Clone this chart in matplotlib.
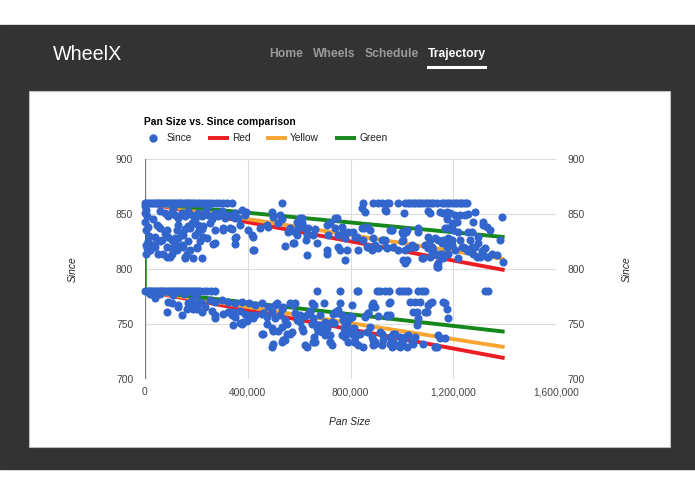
import numpy as np
from matplotlib import pyplot as plt
from matplotlib.patches import Rectangle
from matplotlib.lines import Line2D
from matplotlib.ticker import FuncFormatter

W, H = 695, 494

'''data (pan size in thousands, since value)'''
row_860_x = [0, 8, 15, 22, 30, 38, 45, 52, 60, 68, 75, 82, 90, 98, 105, 112, 120, 128, 135, 142,
             150, 158, 165, 172, 180, 188, 195, 205, 215, 225, 238, 250, 262, 275, 290, 305, 320, 338,
             532, 850, 889, 908, 922, 941, 951, 986, 1012, 1022, 1032, 1042, 1052, 1062, 1072, 1082,
             1092, 1102, 1112, 1122, 1135, 1155, 1165, 1175, 1185, 1195, 1205, 1215, 1225, 1235, 1245, 1252]
row_780_x = [0, 7, 14, 21, 28, 35, 42, 50, 57, 64, 71, 78, 86, 93, 100, 108, 115, 122, 130, 138,
             145, 152, 160, 168, 175, 183, 190, 198, 206, 214, 228, 240, 256, 273,
             669, 759, 824, 831, 902, 915, 935, 948, 987, 999, 1012, 1025, 1064, 1077, 1090, 1324, 1337]

since_upper = [
    (0,857),(4,854),(0,851),(6,848),(10,838),(5,835),(12,825),(2,822),(8,819),(4,814),(15,830),(0,843),
    (78,851),(91,848),(104,852),(117,849),(130,846),(143,851),(156,848),(169,853),(182,849),(195,846),
    (208,851),(221,848),(234,852),(247,849),(260,845),(273,851),(286,848),(299,851),(312,846),(324,849),
    (337,848),(350,851),(363,846),(376,854),(389,849),(60,853),(110,855),(240,856),(300,853),(350,846),(395,852),
    (52,839),(84,835),(39,829),(26,822),(19,817),(58,825),(71,814),(84,811),(104,819),(117,828),(123,835),
    (130,840),(143,822),(149,831),(156,811),(162,814),(169,825),(175,837),(188,842),(195,831),(201,819),
    (208,834),(221,810),(227,839),(240,828),(253,842),(273,835),(266,823),(305,837),(331,837),(350,828),
    (350,823),(415,831),(422,817),(370,840),
    (33,845),(46,840),(59,837),(78,833),(91,829),(104,826),(117,823),(130,828),(143,833),(156,836),(169,839),
    (182,842),(195,845),(208,840),(221,836),(227,829),(214,825),(201,820),(175,817),(149,820),(124,817),
    (104,814),(84,820),(65,826),(46,826),(39,820),(20,817),(52,814),(97,811),(187,810),(156,810),
    (272,824),(304,835),(339,836),(354,829),(401,835),(420,829),(424,817),(448,837),(494,852),(498,847),
    (526,849),(533,845),(518,842),(475,840),(479,838),(545,821),(576,824),(592,831),(603,846),(611,842),
    (596,837),(564,837),(557,834),(631,813),(635,837),(662,836),(670,824),(708,817),(712,831),(720,842),
    (747,846),(751,820),(759,817),(767,838),(778,808),(786,817),(790,834),(825,829),(829,817),(849,826),
    (864,820),(876,835),(845,837),(856,852),(864,838),(934,854),(927,826),(942,819),(954,835),(965,820),(985,817),
    (580,824),(584,834),(592,843),(611,846),(623,837),(631,831),(627,826),(654,831),(708,840),(708,814),
    (740,846),(740,837),(751,831),(771,834),(778,828),(810,834),(817,829),(845,855),(907,819),(895,822),(876,819),
    (853,837),(868,820),(888,828),(884,817),(923,826),(962,835),(1000,834),(1004,826),(1012,817),(1020,808),
    (1012,805),(1020,835),(1039,820),(1051,820),(1063,837),(1078,810),(1082,810),
    (1102,829),(1110,811),(1117,820),(1121,817),(1129,828),(1137,802),(1141,805),(1148,814),(1156,824),
    (1160,826),(1168,837),(1176,820),(1180,814),(1187,824),(1195,826),(1199,842),(1207,817),(1199,835),
    (937,853),(1008,851),(1100,853),(1110,851),(1148,852),(1160,851),(1176,852),(1187,851),(1207,849),
    (1226,849),(1246,849),(1257,850),(1285,852),(1176,845),(1195,840),(1215,843),
    (1226,826),(1238,820),(1254,817),(1265,826),(1273,820),(1277,814),(1285,820),(1292,811),(1296,824),
    (1304,811),(1312,814),(1316,817),(1331,811),(1331,838),(1316,843),(1343,835),(1277,843),(1273,834),
    (1296,829),(1390,847),(1382,826),(1394,806),
    (960,835),(1005,832),(1018,834),(1064,834),(1109,826),(1142,826),(1174,837),(1181,828),(1194,822),
    (1220,834),(1259,834),(1317,840),
    (999,825),(1025,819),(1038,822),(1090,822),(1103,819),(1116,814),(1135,813),(1155,814),(1161,810),
    (1220,810),(1233,820),(1246,819),(1259,816),(1310,816),(1323,819),(1336,811),(1349,814),(1369,813),
    (934,826),(938,820),(1005,808),(1135,804),(1142,802),
]

since_lower = [
    (20,777),(60,777),(110,776),(150,777),(200,776),
    (39,774),(91,770),(104,769),(86,761),(143,758),(128,765),(164,764),(167,769),(183,767),(202,764),
    (214,770),(222,769),(234,765),
    (130,767),(182,772),(208,769),(253,772),(273,770),(299,772),(325,770),(351,769),(376,770),(403,769),
    (428,767),(454,769),(480,765),(506,767),(532,764),
    (188,764),(221,761),(260,762),(273,758),(273,755),(305,759),(325,761),(338,758),(350,756),(370,762),
    (389,759),(409,758),(428,758),(454,759),(474,756),(493,761),(506,755),(526,758),
    (344,749),(376,750),(396,753),(422,755),(461,741),(474,750),(493,746),(500,732),(519,744),(538,735),
    (532,747),(383,752),(370,751),(344,761),(403,757),
    (455,741),(461,760),(493,729),(500,744),(513,769),(545,754),(545,735),(532,734),(552,741),(571,743),
    (565,769),(578,767),(584,760),(591,754),(604,752),(610,746),(617,744),(623,757),(630,729),(643,761),
    (656,767),(656,751),(656,738),(662,734),(675,744),(682,758),(688,743),(695,769),(701,752),(708,746),
    (721,740),(721,734),(727,731),(734,751),(747,760),(753,763),(766,740),(773,746),(779,751),(792,754),
    (799,757),(805,741),(812,746),(812,734),(831,731),(837,741),(850,729),(863,743),(870,760),(876,747),
    (883,738),(889,735),(889,731),(915,743),(928,735),(948,769),(954,758),(967,741),(974,731),
    (759,769),(765,758),(772,754),(778,738),(785,744),(791,734),(798,755),(804,767),(811,744),(817,738),
    (856,757),(869,760),(882,767),(889,769),(895,734),(908,757),(921,741),(941,757),(954,738),(960,729),
    (973,741),(980,731),(993,729),(1006,735),(1012,738),(1019,729),(1025,740),(1038,734),(1045,761),
    (1051,770),(1058,761),(1071,770),(1084,732),(1090,761),(1097,761),(1103,767),(1109,769),(1116,770),
    (1129,729),(1135,729),(1142,740),(1148,737),(1161,770),(1168,769),(1174,764),(1168,737),(1181,755),
    (539,765),(552,750),(539,735),(565,741),(584,769),(604,758),(623,731),(636,759),(642,762),(649,769),
    (649,750),(655,755),(655,734),(668,746),(681,749),(694,746),(701,740),(720,734),(727,752),(733,759),
    (740,761),(772,741),(785,749),(805,756),(818,734),(857,756),(883,765),(896,765),(896,732),(922,731),
    (941,758),(954,770),(954,732),(967,734),(993,738),(999,734),(1032,770),(1045,732),(1051,738),
    (1058,749),(1064,755),
]

line_x = [0, 1400000]
red_top, red_bottom = [860, 799], [780, 719]
yellow_top, yellow_bottom = [860, 809], [780, 729]
green_top, green_bottom = [860, 829], [780, 743]
join_x, join_y = [0, 0], [780, 860]

x_ticks = [0, 400000, 800000, 1200000, 1600000]
y_ticks = [700, 750, 800, 850, 900]
nav_items = ['Home', 'Wheels', 'Schedule', 'Trajectory']
nav_left = [269, 313, 365, 428]

BLUE, RED, YELLOW, GREEN = '#3366cc', '#ec1c24', '#f8a532', '#16871a'

pts = since_upper + since_lower
sx = [p[0] * 1000 for p in pts] + [v * 1000 for v in row_860_x] + [v * 1000 for v in row_780_x]
sy = [p[1] for p in pts] + [860] * len(row_860_x) + [780] * len(row_780_x)

plt.rcParams['font.family'] = ['Liberation Sans', 'DejaVu Sans']

def fx(px):
    return px / W

def fy(py):
    return 1 - py / H

fig = plt.figure(figsize=(W / 100, H / 100), dpi=100)
fig.patch.set_facecolor('white')
fig.add_artist(Rectangle((0, fy(469)), 1, (469 - 25) / H, transform=fig.transFigure,
                         color='#333333', zorder=-10))
fig.add_artist(Rectangle((fx(29), fy(447)), 641 / W, 356 / H, transform=fig.transFigure,
                         facecolor='white', edgecolor='#bdbdbd', lw=0.8, zorder=-9))

# header
fig.text(fx(53), fy(54), 'WheelX', color='white', fontsize=14.2, va='center', ha='left')
for name, left in zip(nav_items, nav_left):
    col = 'white' if name == 'Trajectory' else '#9a9a9a'
    fig.text(fx(left), fy(54), name, color=col, fontsize=8.7, weight='bold', va='center', ha='left')
fig.add_artist(Line2D([fx(428), fx(485)], [fy(67), fy(67)], color='white', lw=2.2,
                      transform=fig.transFigure))

ax = fig.add_axes([fx(145), 1 - 379 / H, 411 / W, 220 / H])
ax.plot(line_x, red_top, color=RED, lw=2.8, zorder=2, solid_capstyle='butt')
ax.plot(line_x, red_bottom, color=RED, lw=2.8, zorder=2, solid_capstyle='butt')
ax.plot(line_x, yellow_top, color=YELLOW, lw=2.8, zorder=2, solid_capstyle='butt')
ax.plot(line_x, yellow_bottom, color=YELLOW, lw=2.8, zorder=2, solid_capstyle='butt')
ax.plot(line_x, green_top, color=GREEN, lw=2.8, zorder=2, solid_capstyle='butt')
ax.plot(line_x, green_bottom, color=GREEN, lw=2.8, zorder=2, solid_capstyle='butt')
ax.axvline(0, color='#777777', lw=0.9, zorder=1)
ax.plot(join_x, join_y, color=GREEN, lw=1.8, zorder=2)
ax.scatter(sx, sy, s=34, color=BLUE, linewidths=0, zorder=3, clip_on=False)

ax.set_xlim(0, 1600000)
ax.set_ylim(700, 900)
ax.set_xticks(x_ticks)
ax.set_yticks(y_ticks)
ax.xaxis.set_major_formatter(FuncFormatter(lambda v, p: '{:,}'.format(int(v))))
ax.grid(True, color='#dddddd', lw=0.8, zorder=0)
ax.set_axisbelow(True)
for s in ax.spines.values():
    s.set_visible(False)
ax.tick_params(axis='both', length=0, labelsize=7.4, labelcolor='#444444')
ax.tick_params(axis='y', pad=8.5, labelright=True)
ax.tick_params(axis='x', pad=6)

fig.text(fx(350), fy(422), 'Pan Size', fontsize=7.4, style='italic', color='#222222',
         ha='center', va='center')
fig.text(fx(73), fy(269), 'Since', fontsize=7.4, style='italic', color='#222222',
         ha='center', va='center', rotation=90)
fig.text(fx(627), fy(269), 'Since', fontsize=7.4, style='italic', color='#222222',
         ha='center', va='center', rotation=90)

# title and legend
fig.text(fx(144), fy(122), 'Pan Size vs. Since comparison', fontsize=7.4, weight='bold',
         color='#000000', ha='left', va='center')
fig.add_artist(Line2D([fx(153)], [fy(138)], marker='o', ms=5, color=BLUE, lw=0,
                      transform=fig.transFigure))
fig.text(fx(167), fy(138), 'Since', fontsize=7.3, color='#222222', ha='left', va='center')
for col, x0, name in [(RED, 208, 'Red'), (YELLOW, 266, 'Yellow'), (GREEN, 335, 'Green')]:
    fig.add_artist(Line2D([fx(x0), fx(x0 + 21)], [fy(138), fy(138)], color=col, lw=2.8,
                          transform=fig.transFigure, solid_capstyle='butt'))
    fig.text(fx(x0 + 24), fy(138), name, fontsize=7.3, color='#222222', ha='left', va='center')

plt.savefig('out.png', dpi=100)
